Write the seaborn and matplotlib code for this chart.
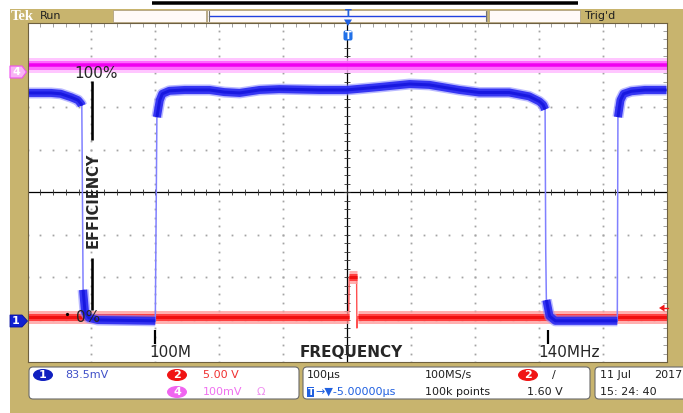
import numpy as np
import pandas as pd
import seaborn as sns
import matplotlib.pyplot as plt
from matplotlib import font_manager
from matplotlib.patches import Rectangle, FancyBboxPatch, Ellipse, Polygon

# scope trace data: time in us (100 us/div), level in divisions
t_ch1 = [-498, -463, -448, -432, -421, -416, -415, -413, -410, -404, -390, -300,
         -297.5, -293, -289, -278, -254, -215, -192, -168, -137, -106, -43, -1,
         51, 98, 129, 176, 207, 254, 285, 301, 307, 310, 311, 312, 317, 326, 423,
         424, 428, 433, 445, 466, 500]
v_ch1 = [2.34, 2.34, 2.32, 2.24, 2.17, 2.08, 2.04, -2.30, -2.82, -2.96, -3.01, -3.03,
         1.77, 2.17, 2.32, 2.39, 2.41, 2.41, 2.36, 2.34, 2.41, 2.43, 2.41, 2.41,
         2.48, 2.55, 2.53, 2.41, 2.35, 2.35, 2.26, 2.14, 2.06, 1.95, -1.36, -2.54,
         -2.92, -3.03, -3.03, 1.77, 2.17, 2.32, 2.38, 2.41, 2.41]

t_ch2 = [-500, 2.5, 3.5, 15, 15.5, 17, 500]
v_ch2 = [-2.93, -2.93, -2.0, -2.0, -3.2, -2.93, -2.93]

t_ch4 = [-500, 500]
v_ch4 = [3.0, 3.0]

W, H = 683, 413
TAN = '#C8B46E'

sns.set_style('white')
names = {f.name for f in font_manager.fontManager.ttflist}
NARROW = 'Liberation Sans Narrow' in names
scope_font = ['Liberation Sans Narrow', 'DejaVu Sans'] if NARROW else ['DejaVu Sans']
scope_size = 10 if NARROW else 8
plt.rcParams['font.family'] = ['DejaVu Sans']

fig = plt.figure(figsize=(W / 100, H / 100), dpi=100)
fig.patch.set_facecolor('white')

# background layer in pixel coordinates
bg = fig.add_axes([0, 0, 1, 1], zorder=0)
bg.set_xlim(0, W)
bg.set_ylim(H, 0)
bg.axis('off')
bg.add_patch(Rectangle((10, 9), W - 10, H - 9, fc=TAN, ec='none'))

# main screen
ax = fig.add_axes([27.5 / W, 1 - 362 / H, 639 / W, 339.5 / H], zorder=2)
ax.set_facecolor('white')
ax.set_xlim(-500, 500)
ax.set_ylim(-4, 4)

# graticule dots
for gx in np.arange(-400, 401, 100):
    if gx == 0:
        continue
    gy = np.arange(-4, 4.01, 0.2)
    ax.plot(np.full_like(gy, gx), gy, ls='none', marker='s', ms=1.3, color='#A4A4A4', mew=0)
for gy in np.arange(-3, 3.01, 1):
    if gy == 0:
        continue
    gx = np.arange(-500, 501, 20)
    ax.plot(gx, np.full_like(gx, gy, dtype=float), ls='none', marker='s', ms=1.3, color='#A4A4A4', mew=0)

# center cross with minor ticks
ax.axhline(0, color='black', lw=0.9)
ax.axvline(0, color='black', lw=0.9)
mx = np.arange(-500, 501, 20)
ax.plot(mx, np.zeros_like(mx), ls='none', marker='|', ms=4, color='#303030', mew=0.6)
my = np.arange(-4, 4.01, 0.2)
ax.plot(np.zeros_like(my), my, ls='none', marker='_', ms=4, color='#303030', mew=0.6)

ax.set_xticks(np.arange(-500, 501, 100))
ax.set_xticks(np.arange(-500, 501, 20), minor=True)
ax.set_yticks(np.arange(-4, 4.01, 1))
ax.set_yticks(np.arange(-4, 4.01, 0.2), minor=True)
ax.tick_params(which='both', direction='in', length=3, width=0.6, color='#909090',
               top=True, right=True, labelbottom=False, labelleft=False)
for s in ax.spines.values():
    s.set_color('#6E6040')
    s.set_linewidth(0.8)


def trace(t, v, thresh, layers, thin):
    df = pd.DataFrame({'t': t, 'v': v})
    df['seg'] = (df['v'].diff().abs() > thresh).cumsum()
    sns.lineplot(data=df, x='t', y='v', color=thin[0], lw=thin[1], estimator=None,
                 sort=False, legend=False, ax=ax)
    for color, lw, alpha in layers:
        sns.lineplot(data=df, x='t', y='v', units='seg', color=color, lw=lw, alpha=alpha,
                     estimator=None, sort=False, legend=False, ax=ax,
                     solid_capstyle='butt', solid_joinstyle='round')


px = 0.72
trace(t_ch4, v_ch4, 1.0,
      [('#FFB8FF', 15 * px, 0.8), ('#FF60FF', 9 * px, 0.9), ('#F000F0', 3.5 * px, 1.0)],
      ('#FF60FF', 1))
trace(t_ch2, v_ch2, 0.2,
      [('#FF9C9C', 13 * px, 0.8), ('#FF3A3A', 7 * px, 0.95), ('#F01010', 3 * px, 1.0)],
      ('#FF5050', 1.0))
trace(t_ch1, v_ch1, 1.0,
      [('#8C8CFF', 11 * px, 0.6), ('#2E2EF2', 8 * px, 0.95), ('#1818E0', 3 * px, 1.0)],
      ('#8080FF', 1.1))
ax.set_xlabel('')
ax.set_ylabel('')

# foreground layer in pixel coordinates
fg = fig.add_axes([0, 0, 1, 1], zorder=5)
fg.set_xlim(0, W)
fg.set_ylim(H, 0)
fg.axis('off')
fg.patch.set_alpha(0)

# header
fg.plot([152, 578], [2.5, 2.5], color='black', lw=3.5 * px, solid_capstyle='butt')
fg.text(11, 16, 'Tek', color='white', fontsize=10.5, fontweight='bold', family='Liberation Serif',
        va='center', ha='left')
fg.text(40, 16, 'Run', fontsize=scope_size, family=scope_font, va='center', ha='left', color='#202020')
fg.text(585, 16, "Trig'd", fontsize=scope_size, family=scope_font, va='center', ha='left', color='#202020')
for x0, w in [(113, 93), (207, 280), (489, 91)]:
    fg.add_patch(Rectangle((x0, 10), w, 12, fc='#FFFAF8', ec='#A89878', lw=0.5))
fg.plot([209, 485], [15.5, 15.5], color='#2040E0', lw=1)
fg.plot([208.5, 208.5], [11, 21], color='#707070', lw=0.8)
fg.plot([485.5, 485.5], [11, 21], color='#707070', lw=0.8)
fg.text(348, 14, 'T', color='#2060E0', fontsize=7, fontweight='bold', ha='center', va='center')
fg.add_patch(Polygon([(344, 19.5), (352, 19.5), (348, 26)], fc='#2060E0', ec='none'))
fg.add_patch(FancyBboxPatch((343.5, 30.5), 9, 10, boxstyle='round,pad=0,rounding_size=2',
                            fc='#2070E8', ec='none'))
fg.text(348, 35.8, 'T', color='white', fontsize=7, fontweight='bold', ha='center', va='center')

# channel markers
fg.add_patch(Polygon([(10, 66), (22, 66), (26.5, 72), (22, 78), (10, 78)],
                     fc='#F8B4F4', ec='#F050F0', lw=0.8))
fg.text(16, 72.3, '4', color='white', fontsize=8, fontweight='bold', ha='center', va='center')
fg.add_patch(Polygon([(10, 315), (22, 315), (27.5, 321), (22, 327), (10, 327)],
                     fc='#1020D0', ec='#0810A0', lw=0.6))
fg.text(16, 321.3, '1', color='white', fontsize=8, fontweight='bold', ha='center', va='center')
fg.add_patch(Polygon([(659, 308), (664.5, 304.5), (664.5, 311.5)], fc='#F01818', ec='none'))
fg.plot([664, 668], [308, 308], color='#F01818', lw=1)

# annotations
fg.text(96, 74, '100%', fontsize=11, ha='center', va='center')
fg.plot([92, 92], [81, 140], color='black', lw=2.6 * px, solid_capstyle='butt')
fg.text(93.5, 200, 'EFFICIENCY', fontsize=10.5, fontweight='bold', rotation=90,
        ha='center', va='center')
fg.plot([92, 92], [258, 310], color='black', lw=2.6 * px, solid_capstyle='butt')
fg.text(88, 317.5, '0%', fontsize=11, ha='center', va='center')
fg.plot([67], [314], ls='none', marker='o', ms=1.3, color='black')
fg.plot([155, 155], [330, 344], color='black', lw=2.2 * px, solid_capstyle='butt')
fg.text(170, 352.5, '100M', fontsize=11, ha='center', va='center')
fg.text(351, 352.5, 'FREQUENCY', fontsize=11, fontweight='bold', ha='center', va='center')
fg.plot([548, 548], [330, 344], color='black', lw=2.2 * px, solid_capstyle='butt')
fg.text(569, 352.5, '140MHz', fontsize=11, ha='center', va='center')

# footer boxes
for x0, w in [(29, 270), (303, 287), (595, 110)]:
    fg.add_patch(FancyBboxPatch((x0, 367), w, 32, boxstyle='round,pad=0,rounding_size=4',
                                fc='white', ec='#6A6A6A', lw=0.8))


def badge(x, y, label, color):
    fg.add_patch(Ellipse((x, y), 20, 12, fc=color, ec='none'))
    fg.text(x, y + 0.4, label, color='white', fontsize=8, fontweight='bold', ha='center', va='center')


def info(x, y, s, color='#202020'):
    fg.text(x, y, s, color=color, fontsize=scope_size, family=scope_font, ha='left', va='center')


badge(43, 375, '1', '#1020C0')
info(65, 375, '83.5mV', '#4050C8')
badge(177, 375, '2', '#F01414')
info(203, 375, '5.00 V', '#F03030')
badge(177, 392, '4', '#F064F0')
info(203, 392, '100mV', '#F070F0')
info(257, 392, 'Ω', '#F090F0')

info(307, 375, '100µs')
fg.add_patch(Rectangle((307, 387), 7, 10, fc='#2060E0', ec='none'))
fg.text(310.5, 392.3, 'T', color='white', fontsize=6.5, fontweight='bold', ha='center', va='center')
info(315, 392, '→▼-5.00000µs', '#2060E0')
info(425, 375, '100MS/s')
info(425, 392, '100k points')
badge(528, 375, '2', '#F01414')
info(552, 375, '/')
info(527, 392, '1.60 V')

info(600, 375, '11 Jul')
info(654, 375, '2017')
info(600, 392, '15: 24: 40')

plt.savefig('out.png', dpi=100)
